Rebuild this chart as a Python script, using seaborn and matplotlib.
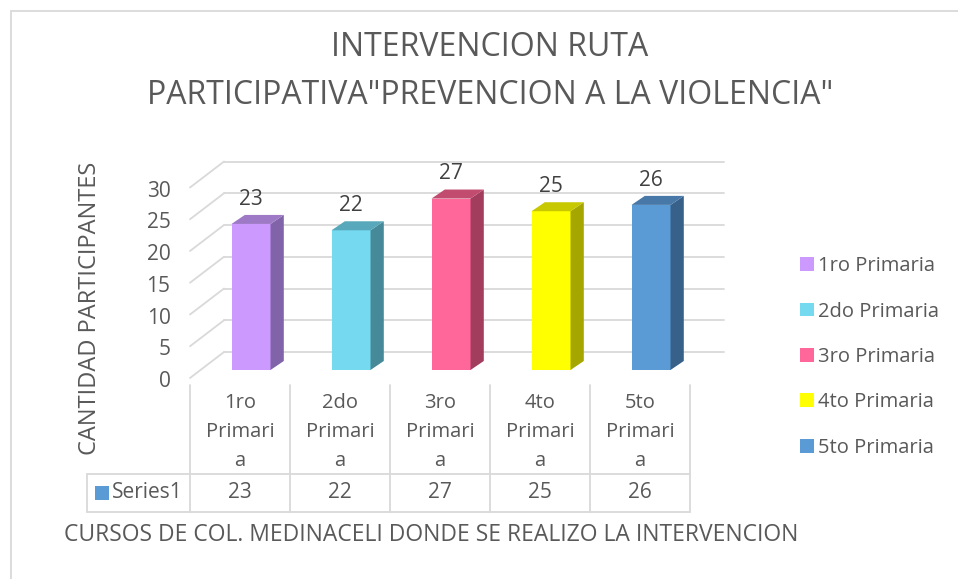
import matplotlib
matplotlib.use("Agg")
import matplotlib.pyplot as plt
import seaborn as sns
import numpy as np
from matplotlib.patches import Polygon, Patch, Rectangle
from matplotlib.lines import Line2D
from matplotlib.transforms import ScaledTranslation

# data
cursos = ['1ro Primaria', '2do Primaria', '3ro Primaria', '4to Primaria', '5to Primaria']
cursos_tabla = ['1ro\nPrimari\na', '2do\nPrimari\na', '3ro\nPrimari\na', '4to\nPrimari\na', '5to\nPrimari\na']
participantes = [23, 22, 27, 25, 26]
serie = 'Series1'

# colours: front, side and top faces
c_front = ['#cc99ff', '#75d9f0', '#ff6699', '#ffff00', '#5b9bd5']
c_side = ['#8063a8', '#468a99', '#a33d5e', '#a6a600', '#38618a']
c_top = ['#9e79c6', '#57a8ba', '#c24b70', '#c8c800', '#4878a8']

sns.set_style("white")
plt.rcParams['font.family'] = ['Open Sans', 'DejaVu Sans']

W, H = 958, 579
fig = plt.figure(figsize=(W / 100, H / 100), dpi=100)

def fx(px):
    return px / W

def fy(py):
    return 1 - py / H

# axes on the plane of the bars
ax = fig.add_axes([fx(201), fy(370), fx(701) - fx(201), fy(179.5) - fy(370)])
ax.set_xlim(-0.5, 4.5)
ax.set_ylim(0, 30)

grid_c = '#d9d9d9'
txt_c = '#595959'
fs = 14.5

# back wall / side wall gridlines
back_dx, back_dy = 0.23, 2.83
front_dx, front_dy = -0.11, -1.26
for v in range(0, 31, 5):
    ax.plot([-0.5 + back_dx, 4.5 + back_dx], [v + back_dy, v + back_dy],
            color=grid_c, lw=1.3, clip_on=False, zorder=0)
    ax.plot([-0.5 + front_dx, -0.5 + back_dx], [v + front_dy, v + back_dy],
            color=grid_c, lw=1.3, clip_on=False, zorder=0)

sns.barplot(x=cursos, y=participantes, hue=cursos, palette=c_front, width=0.39,
            legend=False, saturation=1, ax=ax, zorder=2)

# 3D look: side and top faces built from the bars
ddx, ddy = 0.133, 1.42
for i, p in enumerate(ax.patches[:len(participantes)]):
    x0, w, h = p.get_x(), p.get_width(), p.get_height()
    x1 = x0 + w
    p.set_edgecolor('none')
    ax.add_patch(Polygon([(x1, 0), (x1 + ddx, ddy), (x1 + ddx, h + ddy), (x1, h)],
                         closed=True, facecolor=c_side[i], edgecolor='none', clip_on=False, zorder=2))
    ax.add_patch(Polygon([(x0, h), (x1, h), (x1 + ddx, h + ddy), (x0 + ddx, h + ddy)],
                         closed=True, facecolor=c_top[i], edgecolor='none', clip_on=False, zorder=2))
    ax.text(x0 + w / 2, h + 3.9, str(participantes[i]), ha='center', va='center',
            fontsize=15, color='#404040', zorder=3)

for s in ax.spines.values():
    s.set_visible(False)
ax.set_xticks([])
ax.set_yticks(range(0, 31, 5))
ax.tick_params(axis='y', length=0, pad=22, labelsize=15, labelcolor=txt_c)
for lab in ax.get_yticklabels():
    lab.set_transform(lab.get_transform() + ScaledTranslation(0, -0.09, fig.dpi_scale_trans))
ax.set_xlabel('')
ax.set_ylabel('')

# outer chart frame
fig.add_artist(Rectangle((fx(11), fy(600)), fx(1000) - fx(11), fy(11) - fy(600),
                         transform=fig.transFigure, fill=False, edgecolor=grid_c, lw=1.3))

# titles
fig.text(fx(490), fy(48), 'INTERVENCION RUTA', ha='center', va='center', fontsize=23, color=txt_c)
fig.text(fx(490), fy(96), 'PARTICIPATIVA"PREVENCION A LA VIOLENCIA"', ha='center', va='center',
         fontsize=23, color=txt_c)
fig.text(fx(90), fy(308), 'CANTIDAD PARTICIPANTES', rotation=90, ha='center', va='center',
         fontsize=17, color=txt_c)
fig.text(fx(431), fy(535), 'CURSOS DE COL. MEDINACELI DONDE SE REALIZO LA INTERVENCION',
         ha='center', va='center', fontsize=16.5, color=txt_c)

# data table
def hline(x0, x1, y):
    fig.add_artist(Line2D([fx(x0), fx(x1)], [fy(y), fy(y)], transform=fig.transFigure, color=grid_c, lw=1.3))

def vline(x, y0, y1):
    fig.add_artist(Line2D([fx(x), fx(x)], [fy(y0), fy(y1)], transform=fig.transFigure, color=grid_c, lw=1.3))

col_edges = [190 + 100 * k for k in range(len(cursos) + 1)]
for xe in col_edges:
    vline(xe, 385, 512)
vline(87, 474, 512)
hline(87, 690, 474)
hline(87, 690, 512)

for k, (lab, val) in enumerate(zip(cursos_tabla, participantes)):
    cx = 240 + 100 * k
    for j, part in enumerate(lab.split('\n')):
        fig.text(fx(cx), fy(403 + 29 * j), part, ha='center', va='center', fontsize=fs, color=txt_c)
    fig.text(fx(cx), fy(493), str(val), ha='center', va='center', fontsize=15, color=txt_c)

fig.add_artist(Rectangle((fx(95), fy(500)), fx(109) - fx(95), fy(486) - fy(500),
                         transform=fig.transFigure, facecolor='#5b9bd5', edgecolor='none'))
fig.text(fx(112), fy(493), serie, ha='left', va='center', fontsize=15, color=txt_c)

# legend
handles = [Patch(facecolor=c, edgecolor='none') for c in c_front]
fig.legend(handles, cursos, loc='center left', bbox_to_anchor=(fx(782), fy(357)),
           frameon=False, fontsize=fs, labelcolor=txt_c, handlelength=0.68, handleheight=0.68,
           handletextpad=0.2, labelspacing=1.26)

fig.savefig('out.png', dpi=100)
